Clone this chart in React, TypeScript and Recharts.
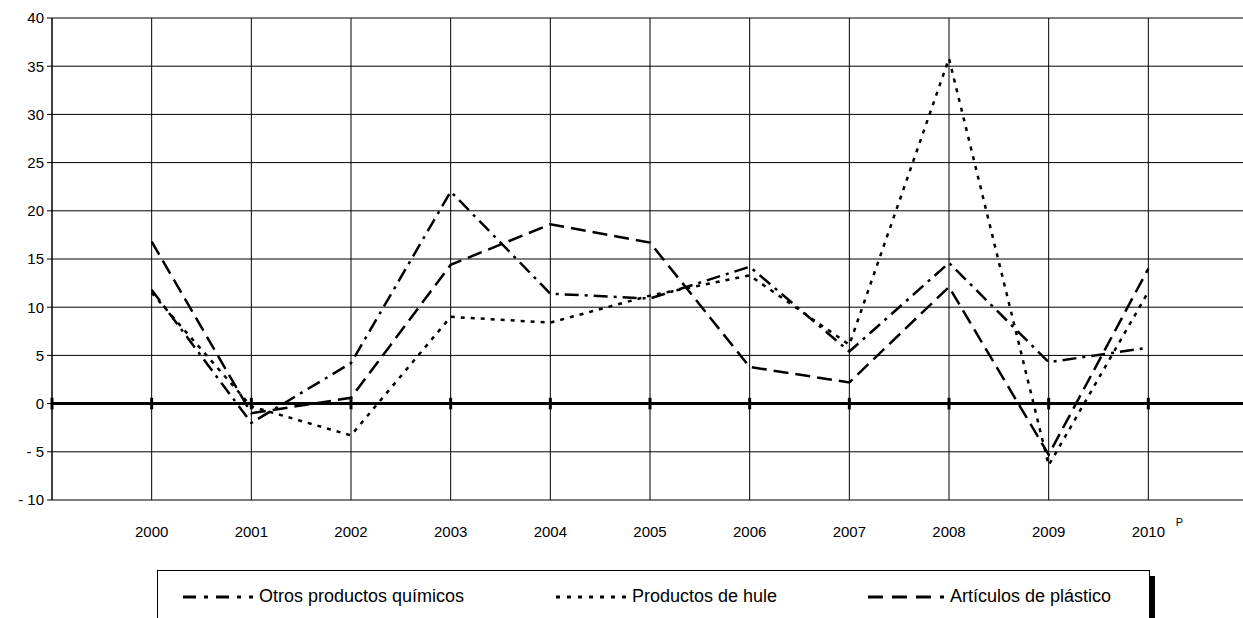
import { LineChart, Line, XAxis, YAxis, CartesianGrid, ReferenceLine } from 'recharts';

const years = [2000, 2001, 2002, 2003, 2004, 2005, 2006, 2007, 2008, 2009, 2010];
const otrosQuimicos = [11.8, -2.0, 4.2, 22.0, 11.4, 10.9, 14.2, 5.4, 14.6, 4.3, 5.8];
const productosHule = [11.5, -0.3, -3.3, 9.0, 8.4, 11.2, 13.3, 6.1, 35.8, -6.4, 11.6];
const articulosPlastico = [16.8, -1.0, 0.6, 14.4, 18.6, 16.7, 3.8, 2.2, 12.1, -5.3, 14.0];
const yTicks = [-10, -5, 0, 5, 10, 15, 20, 25, 30, 35, 40];

const data = years.map((year, i) => ({
  year,
  otros: otrosQuimicos[i],
  hule: productosHule[i],
  plastico: articulosPlastico[i],
}));

const FONT = 'Arial, "Liberation Sans", sans-serif';

const DASH_OTROS = '14 6 3 6';
const DASH_HULE = '4 6';
const DASH_PLASTICO = '15 7';

function YearTick(props: any) {
  const { x, y, payload } = props;
  return (
    <g>
      <text x={x} y={y + 29} textAnchor="middle" fontSize={15} fontFamily={FONT} fill="#000">
        {payload.value}
      </text>
      {payload.value === 2010 && (
        <text x={x + 31} y={y + 18} textAnchor="middle" fontSize={11} fontFamily={FONT} fill="#000">
          P
        </text>
      )}
    </g>
  );
}

function LegendItem({ dash, label, left, sampleWidth }: { dash: string; label: string; left: number; sampleWidth: number }) {
  return (
    <div style={{ position: 'absolute', left, top: 15, display: 'flex', alignItems: 'center' }}>
      <svg width={sampleWidth} height={10} style={{ display: 'block' }}>
        <line x1={0} y1={5} x2={sampleWidth} y2={5} stroke="#000" strokeWidth={3} strokeDasharray={dash} />
      </svg>
      <span style={{ marginLeft: 6, fontSize: 18, fontFamily: FONT, color: '#000', whiteSpace: 'nowrap' }}>{label}</span>
    </div>
  );
}

export default function App() {
  return (
    <div style={{ position: 'absolute', left: 0, top: 0, width: 1243, height: 618, overflow: 'hidden', background: '#fff' }}>
      <LineChart width={1250} height={618} data={data} margin={{ top: 18, right: 2, left: 0, bottom: 88 }}>
        <CartesianGrid stroke="#000" strokeWidth={1} />
        <XAxis
          dataKey="year"
          type="number"
          domain={[1999, 2011]}
          ticks={years}
          axisLine={false}
          tickLine={false}
          height={30}
          tick={<YearTick />}
          interval={0}
        />
        <YAxis
          type="number"
          domain={[-10, 40]}
          ticks={yTicks}
          width={52}
          axisLine={{ stroke: '#000', strokeWidth: 1 }}
          tickLine={{ stroke: '#000' }}
          tickSize={5}
          tickMargin={3}
          tickFormatter={(v: number) => (v < 0 ? `- ${-v}` : `${v}`)}
          tick={{ fill: '#000', fontSize: 15, fontFamily: FONT }}
          interval={0}
        />
        <ReferenceLine y={0} stroke="#000" strokeWidth={3} />
        {[1999, ...years].map((yr) => (
          <ReferenceLine
            key={yr}
            segment={[
              { x: yr, y: -0.6 },
              { x: yr, y: 0.6 },
            ]}
            stroke="#000"
            strokeWidth={3}
          />
        ))}
        <Line type="linear" dataKey="otros" stroke="#000" strokeWidth={2.5} strokeDasharray={DASH_OTROS} dot={false} isAnimationActive={false} />
        <Line type="linear" dataKey="hule" stroke="#000" strokeWidth={2.5} strokeDasharray={DASH_HULE} dot={false} isAnimationActive={false} />
        <Line type="linear" dataKey="plastico" stroke="#000" strokeWidth={2.5} strokeDasharray={DASH_PLASTICO} dot={false} isAnimationActive={false} />
      </LineChart>
      <div
        style={{
          position: 'absolute',
          left: 157,
          top: 570,
          width: 991,
          height: 60,
          borderTop: '1px solid #000',
          borderLeft: '1px solid #000',
          borderRight: '1px solid #000',
        }}
      >
        <LegendItem dash="13 8 4 8" label="Otros productos químicos" left={25} sampleWidth={70} />
        <LegendItem dash="4 7" label="Productos de hule" left={398} sampleWidth={70} />
        <LegendItem dash="15 9" label="Artículos de plástico" left={710} sampleWidth={76} />
      </div>
      <div style={{ position: 'absolute', left: 1149, top: 576, width: 6, height: 50, background: '#000' }} />
    </div>
  );
}
